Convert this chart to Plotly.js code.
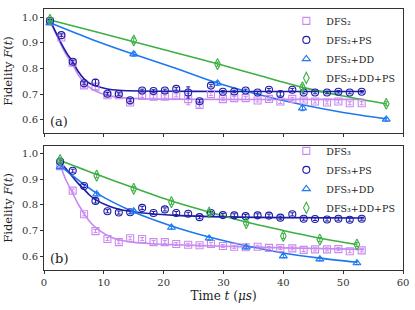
<!DOCTYPE html>
<html>
<head>
<meta charset="utf-8">
<script src="https://cdn.plot.ly/plotly-3.0.1.min.js"></script>
<style>html,body{margin:0;padding:0;background:#fff;}#chart{width:415px;height:310px;}</style>
</head>
<body>
<div id="chart"></div>
<script>
// ---------- Panel (a): DFS2 ----------
const tA = [1, 2.9, 4.8, 6.7, 8.6, 10.6, 12.5, 14.4, 16.4, 18.3, 20.2, 22.1, 24.1, 26.0, 27.9, 29.9, 31.8, 33.7, 35.7, 37.6, 39.5, 41.5, 43.4, 45.3, 47.3, 49.2, 51.1, 53.1];
const dfs2 = [0.983, 0.921, 0.822, 0.734, 0.729, 0.695, 0.695, 0.667, 0.693, 0.690, 0.690, 0.695, 0.680, 0.657, 0.700, 0.680, 0.684, 0.684, 0.675, 0.681, 0.671, 0.681, 0.675, 0.671, 0.667, 0.671, 0.664, 0.664];
const dfs2Err = [0.005, 0.005, 0.006, 0.008, 0.012, 0.006, 0.006, 0.008, 0.006, 0.006, 0.006, 0.006, 0.022, 0.008, 0.006, 0.006, 0.006, 0.006, 0.006, 0.006, 0.008, 0.006, 0.006, 0.006, 0.006, 0.006, 0.006, 0.006];
const dfs2PS = [0.986, 0.930, 0.826, 0.742, 0.745, 0.701, 0.700, 0.676, 0.714, 0.712, 0.714, 0.720, 0.706, 0.672, 0.733, 0.709, 0.710, 0.714, 0.706, 0.717, 0.700, 0.717, 0.706, 0.706, 0.706, 0.709, 0.706, 0.709];
const dfs2PSErr = [0.005, 0.005, 0.006, 0.006, 0.012, 0.005, 0.005, 0.006, 0.005, 0.005, 0.005, 0.005, 0.022, 0.006, 0.005, 0.005, 0.005, 0.005, 0.005, 0.005, 0.008, 0.005, 0.005, 0.005, 0.005, 0.005, 0.005, 0.005];
const tA_DD = [1, 15.0, 29.0, 43.2, 57.2];
const dfs2DD = [0.978, 0.856, 0.742, 0.645, 0.601];
const dfs2DDErr = [0.006, 0.008, 0.008, 0.01, 0.006];
const dfs2DDPS = [0.990, 0.909, 0.817, 0.726, 0.662];
const dfs2DDPSErr = [0.006, 0.01, 0.008, 0.01, 0.008];
// fit curves (panel a)
const fitA_t = [1, 2.0, 2.9, 3.8, 4.8, 5.7, 6.7, 7.6, 8.6, 10.6, 12.5, 16, 20, 30, 40, 53.5];
const fitA_dfs2 = [0.985, 0.935, 0.89, 0.85, 0.815, 0.776, 0.745, 0.726, 0.712, 0.695, 0.687, 0.682, 0.680, 0.679, 0.679, 0.679];
const fitA_dfs2PS = [0.988, 0.94, 0.897, 0.86, 0.826, 0.789, 0.759, 0.742, 0.732, 0.72, 0.715, 0.712, 0.711, 0.710, 0.710, 0.710];
const fitA_DD_t = [1, 8, 15, 22, 29, 36, 43.2, 50, 57.2];
const fitA_DD = [0.978, 0.913, 0.855, 0.801, 0.743, 0.697, 0.658, 0.628, 0.603];
const fitA_DDPS_t = [1, 8, 15, 22, 29, 36, 43.2, 50, 57.2];
const fitA_DDPS = [0.989, 0.947, 0.904, 0.861, 0.818, 0.772, 0.726, 0.692, 0.661];

// ---------- Panel (b): DFS3 ----------
const tB = [2.7, 4.8, 6.7, 8.6, 10.6, 12.5, 14.4, 16.4, 18.3, 20.2, 22.1, 24.1, 26.0, 27.9, 29.9, 31.8, 33.7, 35.7, 37.6, 39.5, 41.5, 43.4, 45.3, 47.3, 49.2, 51.1, 53.1];
const dfs3 = [0.950, 0.855, 0.763, 0.698, 0.667, 0.655, 0.670, 0.667, 0.655, 0.655, 0.648, 0.645, 0.643, 0.648, 0.640, 0.637, 0.635, 0.637, 0.633, 0.632, 0.631, 0.625, 0.627, 0.627, 0.628, 0.620, 0.623];
const dfs3Err = [0.006, 0.006, 0.006, 0.006, 0.006, 0.006, 0.006, 0.006, 0.006, 0.006, 0.006, 0.006, 0.006, 0.006, 0.006, 0.006, 0.006, 0.006, 0.006, 0.006, 0.006, 0.006, 0.006, 0.006, 0.006, 0.006, 0.006];
const dfs3PS = [0.968, 0.932, 0.873, 0.815, 0.775, 0.770, 0.771, 0.788, 0.768, 0.782, 0.768, 0.765, 0.752, 0.768, 0.760, 0.759, 0.756, 0.759, 0.758, 0.750, 0.763, 0.746, 0.745, 0.743, 0.746, 0.742, 0.746];
const dfs3PSErr = [0.006, 0.006, 0.006, 0.008, 0.006, 0.006, 0.006, 0.006, 0.006, 0.006, 0.006, 0.006, 0.006, 0.006, 0.006, 0.006, 0.006, 0.006, 0.006, 0.006, 0.006, 0.006, 0.006, 0.006, 0.006, 0.006, 0.006];
const tB_DD = [2.7, 8.8, 15.0, 21.3, 27.6, 33.8, 40.0, 46.1, 52.3];
const dfs3DD = [0.947, 0.841, 0.775, 0.712, 0.670, 0.635, 0.601, 0.589, 0.574];
const dfs3DDErr = [0.006, 0.006, 0.006, 0.006, 0.006, 0.006, 0.006, 0.006, 0.006];
const dfs3DDPS = [0.973, 0.913, 0.862, 0.810, 0.770, 0.729, 0.679, 0.665, 0.646];
const dfs3DDPSErr = [0.008, 0.008, 0.008, 0.008, 0.008, 0.008, 0.01, 0.008, 0.008];
// fit curves (panel b)
const fitB_t = [2.7, 3.5, 4.8, 5.7, 6.7, 7.6, 8.6, 10.6, 12.5, 14.4, 18, 22, 30, 40, 53.5];
const fitB_dfs3 = [0.955, 0.905, 0.845, 0.803, 0.766, 0.736, 0.712, 0.681, 0.664, 0.656, 0.649, 0.645, 0.639, 0.633, 0.627];
const fitB_dfs3PS = [0.966, 0.945, 0.908, 0.883, 0.860, 0.838, 0.820, 0.797, 0.783, 0.775, 0.765, 0.759, 0.753, 0.750, 0.749];
const fitB_DD_t = [2.7, 8.8, 15.0, 21.3, 27.6, 33.8, 40.0, 46.1, 52.3];
const fitB_DD = [0.951, 0.845, 0.772, 0.718, 0.675, 0.641, 0.613, 0.593, 0.577];
const fitB_DDPS = [0.972, 0.918, 0.866, 0.815, 0.772, 0.733, 0.700, 0.670, 0.646];

const namesA = ['DFS\u2082', 'DFS\u2082+PS', 'DFS\u2082+DD', 'DFS\u2082+DD+PS'];
const namesB = ['DFS\u2083', 'DFS\u2083+PS', 'DFS\u2083+DD', 'DFS\u2083+DD+PS'];

const C_V = '#c98af0', C_N = '#1c1ca6', C_B = '#1e78f0', C_G = '#3cb043';
const FONT = "'DejaVu Serif', serif";

function pts(x, y, e, color, symbol, name, xa, ya, leg, size) {
  return {x: x, y: y, xaxis: xa, yaxis: ya, mode: 'markers', type: 'scatter', name: name, legend: leg,
    marker: {symbol: symbol, size: size || 7, color: color, line: {color: color, width: 1.1}},
    error_y: {type: 'data', array: e, visible: true, color: color, thickness: 1, width: 2}};
}
function fit(x, y, color, xa, ya) {
  return {x: x, y: y, xaxis: xa, yaxis: ya, mode: 'lines', type: 'scatter', showlegend: false,
    line: {color: color, width: 1.6, shape: 'spline', smoothing: 0.8}, hoverinfo: 'skip'};
}

const traces = [
  fit(fitA_t, fitA_dfs2, C_V, 'x2', 'y2'),
  fit(fitA_t, fitA_dfs2PS, C_N, 'x2', 'y2'),
  fit(fitA_DD_t, fitA_DD, C_B, 'x2', 'y2'),
  fit(fitA_DDPS_t, fitA_DDPS, C_G, 'x2', 'y2'),
  pts(tA, dfs2, dfs2Err, C_V, 'square-open', namesA[0], 'x2', 'y2', 'legend'),
  pts(tA, dfs2PS, dfs2PSErr, C_N, 'circle-open', namesA[1], 'x2', 'y2', 'legend'),
  pts(tA_DD, dfs2DD, dfs2DDErr, C_B, 'triangle-up-open', namesA[2], 'x2', 'y2', 'legend'),
  pts(tA_DD, dfs2DDPS, dfs2DDPSErr, C_G, 'diamond-tall-open', namesA[3], 'x2', 'y2', 'legend', 8),

  fit(fitB_t, fitB_dfs3, C_V, 'x', 'y'),
  fit(fitB_t, fitB_dfs3PS, C_N, 'x', 'y'),
  fit(fitB_DD_t, fitB_DD, C_B, 'x', 'y'),
  fit(fitB_DD_t, fitB_DDPS, C_G, 'x', 'y'),
  pts(tB, dfs3, dfs3Err, C_V, 'square-open', namesB[0], 'x', 'y', 'legend2'),
  pts(tB, dfs3PS, dfs3PSErr, C_N, 'circle-open', namesB[1], 'x', 'y', 'legend2'),
  pts(tB_DD, dfs3DD, dfs3DDErr, C_B, 'triangle-up-open', namesB[2], 'x', 'y', 'legend2'),
  pts(tB_DD, dfs3DDPS, dfs3DDPSErr, C_G, 'diamond-tall-open', namesB[3], 'x', 'y', 'legend2', 8)
];

const axisCommon = {
  showgrid: false, zeroline: false, showline: true, mirror: true, linecolor: '#333', linewidth: 1,
  ticks: 'outside', ticklen: 3, tickwidth: 1, tickcolor: '#333',
  tickfont: {family: FONT, size: 10, color: '#333'}
};

const legCommon = {
  font: {family: FONT, size: 9.5, color: '#222'}, bgcolor: 'rgba(0,0,0,0)', borderwidth: 0,
  xanchor: 'left', yanchor: 'top', itemwidth: 30, tracegroupgap: 0
};

const layout = {
  width: 415, height: 310,
  margin: {l: 43.5, r: 12.3, t: 6.7, b: 40},
  paper_bgcolor: '#fff', plot_bgcolor: '#fff',
  showlegend: true,
  font: {family: FONT, color: '#222'},
  xaxis: Object.assign({}, axisCommon, {range: [0, 60], dtick: 10, anchor: 'y',
    title: {text: 'Time <i>t</i> (<i>μs</i>)', font: {family: FONT, size: 12, color: '#222'}, standoff: 4}}),
  yaxis: Object.assign({}, axisCommon, {range: [0.547, 1.029], dtick: 0.1, tickformat: '.1f', domain: [0, 0.476], anchor: 'x',
    title: {text: 'Fidelity <i>F</i>(<i>t</i>)', font: {family: FONT, size: 11.5, color: '#222'}, standoff: 7}}),
  xaxis2: Object.assign({}, axisCommon, {range: [0, 60], dtick: 10, anchor: 'y2', matches: 'x', showticklabels: false}),
  yaxis2: Object.assign({}, axisCommon, {range: [0.548, 1.032], dtick: 0.1, tickformat: '.1f', domain: [0.525, 1], anchor: 'x2',
    title: {text: 'Fidelity <i>F</i>(<i>t</i>)', font: {family: FONT, size: 11.5, color: '#222'}, standoff: 7}}),
  legend: Object.assign({}, legCommon, {x: 0.675, y: 1.01}),
  legend2: Object.assign({}, legCommon, {x: 0.675, y: 0.512}),
  annotations: [
    {text: '(a)', xref: 'paper', yref: 'paper', x: 0.012, y: 0.57, xanchor: 'left', yanchor: 'middle', showarrow: false,
     font: {family: FONT, size: 13, color: '#222'}},
    {text: '(b)', xref: 'paper', yref: 'paper', x: 0.012, y: 0.045, xanchor: 'left', yanchor: 'middle', showarrow: false,
     font: {family: FONT, size: 13, color: '#222'}}
  ]
};

Plotly.newPlot('chart', traces, layout, {displayModeBar: false, staticPlot: true});
</script>
</body>
</html>
